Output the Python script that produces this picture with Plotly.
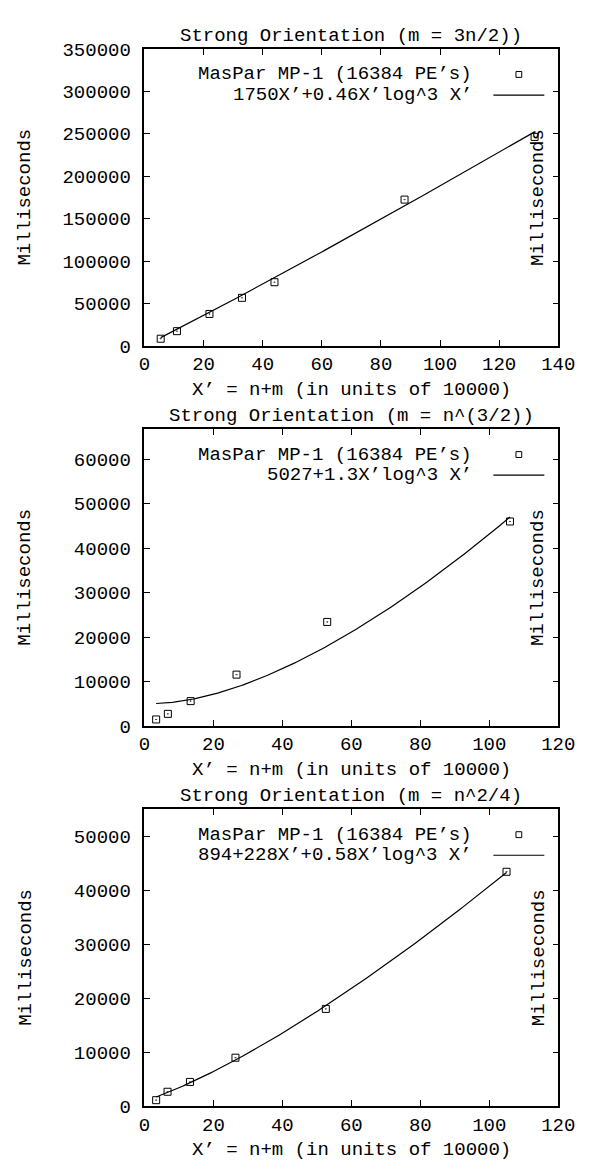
import numpy as np
import plotly.graph_objects as go

W, H = 594, 1169

# ---- text ----
titles = [
    "Strong Orientation (m = 3n/2))",
    "Strong Orientation (m = n^(3/2))",
    "Strong Orientation (m = n^2/4)",
]
x_title = "X’ = n+m (in units of 10000)"
y_title = "Milliseconds"
series_label = "MasPar MP-1 (16384 PE’s)"
fit_labels = [
    "1750X’+0.46X’log^3 X’",
    "5027+1.3X’log^3 X’",
    "894+228X’+0.58X’log^3 X’",
]

# ---- measured running times (X' in units of 10000, time in ms) ----
x_a = [5.5, 11, 22, 33, 44, 88, 132]
y_a = [8400, 17300, 37600, 56600, 75000, 172400, 246300]

x_b = [3.4, 6.8, 13.4, 26.7, 53.0, 106.0]
y_b = [1460, 2720, 5590, 11550, 23400, 46000]

x_c = [3.4, 6.7, 13.2, 26.4, 52.6, 105.0]
y_c = [1090, 2650, 4470, 8960, 18000, 43400]

# ---- fitted models: c0 + c1*X' + c2*X'*log2(X')^3 ----
fit_a = [0, 1750, 0.46]
fit_b = [5027, 0, 1.3]
fit_c = [894, 228, 0.58]

# ---- axis ranges / ticks ----
x_max = [140, 120, 120]
y_max = [350000, 66800, 55000]
y_dtick = [50000, 10000, 10000]

panels = [(x_a, y_a, fit_a), (x_b, y_b, fit_b), (x_c, y_c, fit_c)]

# ---- geometry (pixels) ----
FONT = "Liberation Mono"
FS = 19
left_px, right_px = 144, 574.5
bottom_px = [343.3, 730.7, 1118.1]
plot_h = 302.6


def px(x):
    return x / W


def py(y):
    return 1 - y / H


fig = go.Figure()
annotations = []
shapes = []

for i, (xs, ys, c) in enumerate(panels):
    n = "" if i == 0 else str(i + 1)
    xa, ya = "x" + n, "y" + n

    # fitted curve across the measured span
    xf = np.linspace(min(xs), max(xs), 200)
    yf = c[0] + c[1] * xf + c[2] * xf * np.log2(xf) ** 3
    fig.add_trace(go.Scatter(
        x=xf, y=yf, mode="lines", xaxis=xa, yaxis=ya,
        line=dict(color="black", width=1.2), showlegend=False, hoverinfo="skip"))

    # measured points
    fig.add_trace(go.Scatter(
        x=xs, y=ys, mode="markers", xaxis=xa, yaxis=ya,
        marker=dict(symbol="square-open-dot", size=7, color="black",
                    line=dict(color="black", width=1)),
        showlegend=False))

    top = bottom_px[i] - plot_h
    axis_common = dict(
        showline=True, linecolor="black", linewidth=1.5, mirror="ticks",
        ticks="inside", ticklen=6, tickwidth=1, tickcolor="black",
        showgrid=False, zeroline=False, tickformat="d",
        tickfont=dict(family=FONT, size=FS, color="black"),
    )
    fig.layout["xaxis" + n] = dict(
        axis_common, domain=[px(left_px), px(right_px)], anchor=ya,
        range=[0, x_max[i]], dtick=20, tick0=0, ticklabelstandoff=0)
    fig.layout["yaxis" + n] = dict(
        axis_common, domain=[py(bottom_px[i]), py(top)], anchor=xa,
        range=[0, y_max[i]], dtick=y_dtick[i], tick0=0, ticklabelstandoff=8)

    font = dict(family=FONT, size=FS, color="black")
    # title
    annotations.append(dict(
        text=titles[i], x=px((left_px + right_px) / 2), y=py(top - 13),
        xref="paper", yref="paper", showarrow=False, font=font,
        xanchor="center", yanchor="middle"))
    # x axis title
    annotations.append(dict(
        text=x_title, x=px((left_px + right_px) / 2), y=py(bottom_px[i] + 45),
        xref="paper", yref="paper", showarrow=False, font=font,
        xanchor="center", yanchor="middle"))
    # y axis titles (left and right)
    mid = bottom_px[i] - plot_h / 2
    for xc in (20, 554):
        annotations.append(dict(
            text=y_title, x=px(xc), y=py(mid), textangle=-90,
            xref="paper", yref="paper", showarrow=False, font=font,
            xanchor="center", yanchor="middle"))

    # key: text right-aligned, sample on the right
    key_y1 = top + 26
    key_y2 = top + 47
    annotations.append(dict(
        text=series_label, x=px(487), y=py(key_y1), xref="paper", yref="paper",
        showarrow=False, font=font, xanchor="right", yanchor="middle"))
    annotations.append(dict(
        text=fit_labels[i], x=px(487), y=py(key_y2), xref="paper", yref="paper",
        showarrow=False, font=font, xanchor="right", yanchor="middle"))
    shapes.append(dict(
        type="rect", xref="paper", yref="paper",
        x0=px(530.5), x1=px(536.5), y0=py(key_y1 + 3), y1=py(key_y1 - 3),
        line=dict(color="black", width=1)))
    shapes.append(dict(
        type="line", xref="paper", yref="paper",
        x0=px(507), x1=px(560), y0=py(key_y2), y1=py(key_y2),
        line=dict(color="black", width=1.2)))

fig.update_layout(
    width=W, height=H,
    margin=dict(l=0, r=0, t=0, b=0),
    paper_bgcolor="white", plot_bgcolor="white",
    showlegend=False,
    annotations=annotations, shapes=shapes,
)

fig.write_html("out.html")
